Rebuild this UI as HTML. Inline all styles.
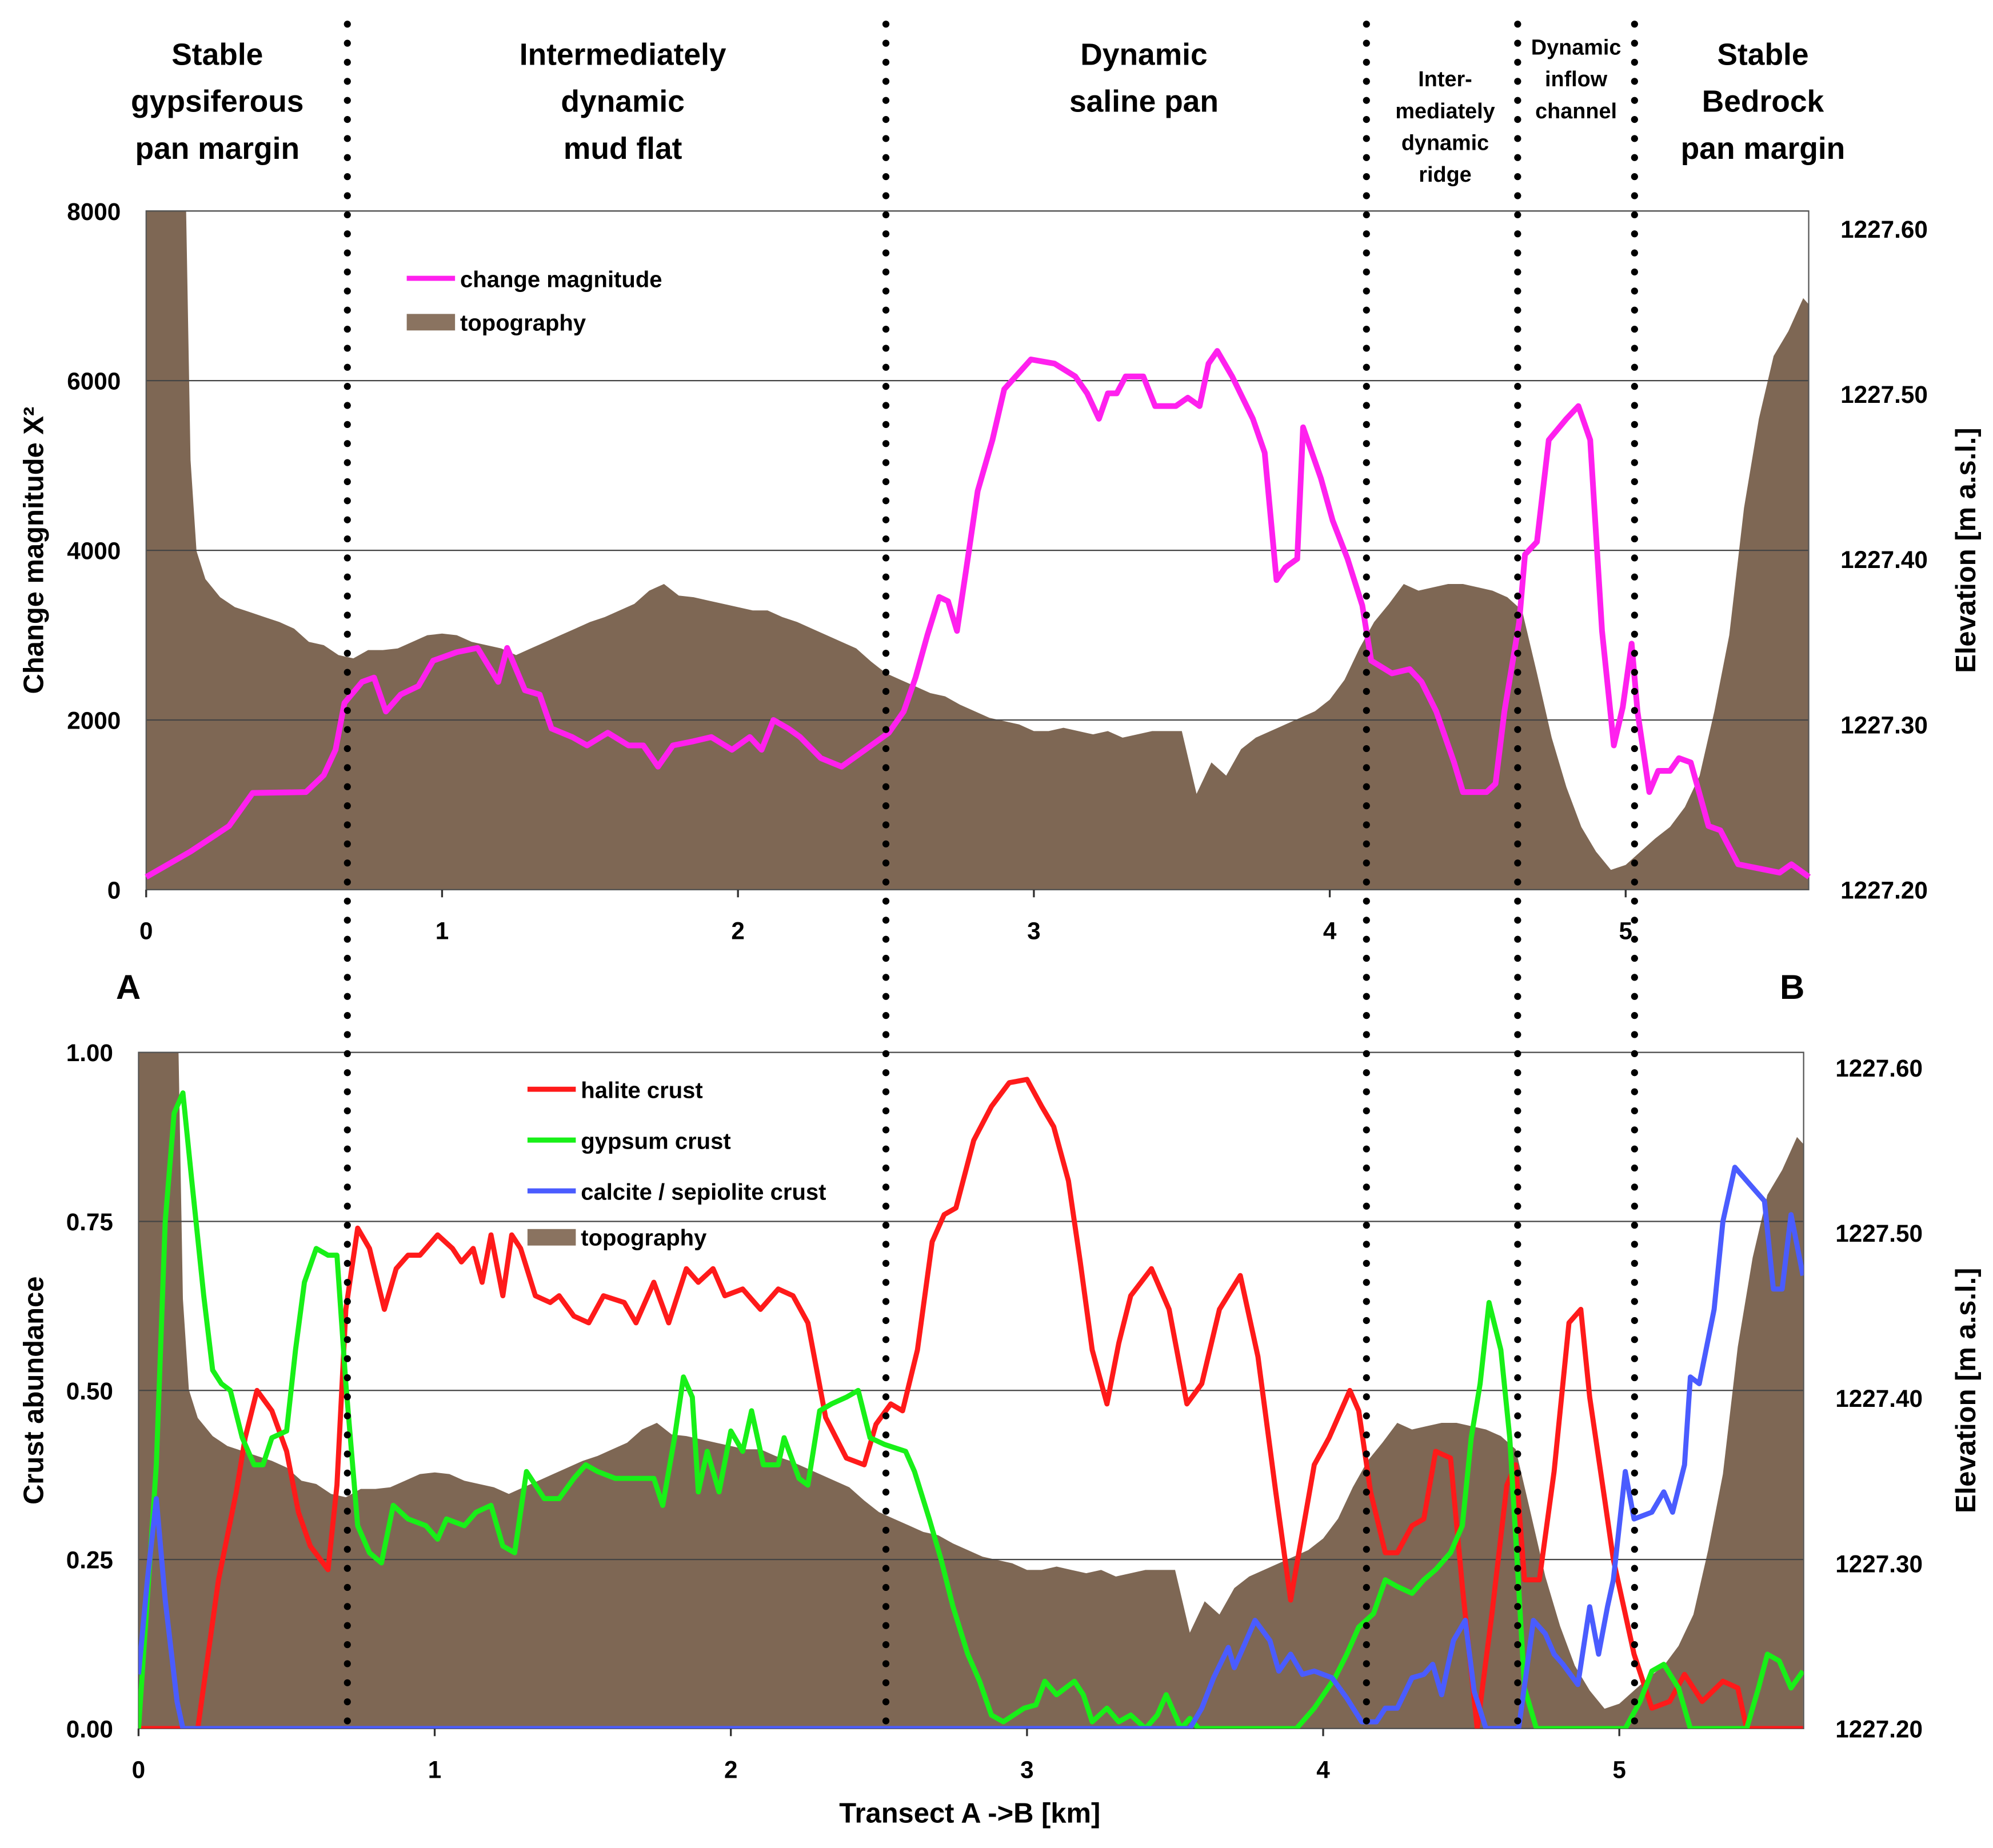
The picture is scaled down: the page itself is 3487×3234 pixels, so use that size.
<!DOCTYPE html>
<html><head><meta charset="utf-8"><style>
html,body{margin:0;padding:0;background:#fff}
svg{display:block}
text{font-family:"Liberation Sans Narrow","Liberation Sans",sans-serif;font-weight:bold;fill:#000}
</style></head><body>
<svg id="chart" xmlns="http://www.w3.org/2000/svg" width="3487" height="3234" viewBox="0 0 1568 1454" preserveAspectRatio="none">
<defs>
<clipPath id="clipTop"><rect x="115" y="166" width="1308" height="534"/></clipPath>
<clipPath id="clipBot"><rect x="109" y="828" width="1310" height="532"/></clipPath>
</defs>
<g id="headings" text-anchor="middle">
<text font-size="24" x="171"><tspan x="171" y="51">Stable</tspan><tspan x="171" y="88">gypsiferous</tspan><tspan x="171" y="125">pan margin</tspan></text>
<text font-size="24" x="490"><tspan x="490" y="51">Intermediately</tspan><tspan x="490" y="88">dynamic</tspan><tspan x="490" y="125">mud flat</tspan></text>
<text font-size="24" x="900"><tspan x="900" y="51">Dynamic</tspan><tspan x="900" y="88">saline pan</tspan></text>
<text font-size="17" x="1137"><tspan x="1137" y="68">Inter-</tspan><tspan x="1137" y="93">mediately</tspan><tspan x="1137" y="118">dynamic</tspan><tspan x="1137" y="143">ridge</tspan></text>
<text font-size="17" x="1240"><tspan x="1240" y="43">Dynamic</tspan><tspan x="1240" y="68">inflow</tspan><tspan x="1240" y="93">channel</tspan></text>
<text font-size="24" x="1387"><tspan x="1387" y="51">Stable</tspan><tspan x="1387" y="88">Bedrock</tspan><tspan x="1387" y="125">pan margin</tspan></text>
</g>
<g id="top"></g>
<g id="bot"></g>
<g id="divs"></g>
<text x="101" y="786" font-size="27" text-anchor="middle">A</text>
<text x="1410" y="786" font-size="27" text-anchor="middle">B</text>
<text x="763" y="1434" font-size="22" text-anchor="middle">Transect  A -&gt;B [km]</text>
<text font-size="22" text-anchor="middle" transform="translate(34,433) rotate(-90)">Change magnitude  X²</text>
<text font-size="22" text-anchor="middle" transform="translate(1554,433) rotate(-90)">Elevation [m a.s.l.]</text>
<text font-size="22" text-anchor="middle" transform="translate(34,1094) rotate(-90)">Crust abundance</text>
<text font-size="22" text-anchor="middle" transform="translate(1554,1094) rotate(-90)">Elevation [m a.s.l.]</text>
</svg>
<script>
const NS="http://www.w3.org/2000/svg";
const topoKm=[0,0.05,0.1,0.13,0.15,0.17,0.2,0.25,0.3,0.35,0.4,0.45,0.5,0.55,0.6,0.65,0.7,0.75,0.8,0.85,0.9,0.95,1,1.05,1.1,1.15,1.2,1.25,1.3,1.35,1.4,1.45,1.5,1.55,1.6,1.65,1.7,1.75,1.8,1.85,1.9,1.95,2,2.05,2.1,2.15,2.2,2.25,2.3,2.35,2.4,2.45,2.5,2.55,2.6,2.65,2.7,2.75,2.8,2.85,2.9,2.95,3,3.05,3.1,3.15,3.2,3.25,3.3,3.4,3.5,3.55,3.6,3.65,3.7,3.75,3.8,3.85,3.9,3.95,4,4.05,4.1,4.15,4.2,4.25,4.3,4.35,4.4,4.45,4.5,4.55,4.6,4.65,4.7,4.75,4.8,4.85,4.9,4.95,5,5.05,5.1,5.15,5.2,5.25,5.3,5.35,5.4,5.45,5.5,5.55,5.6,5.62];
const topoElev=[1227.66,1227.66,1227.66,1227.66,1227.46,1227.405,1227.388,1227.377,1227.371,1227.368,1227.365,1227.362,1227.358,1227.35,1227.348,1227.342,1227.34,1227.345,1227.345,1227.346,1227.35,1227.354,1227.355,1227.354,1227.35,1227.348,1227.346,1227.342,1227.346,1227.35,1227.354,1227.358,1227.362,1227.365,1227.369,1227.373,1227.381,1227.385,1227.378,1227.377,1227.375,1227.373,1227.371,1227.369,1227.369,1227.365,1227.362,1227.358,1227.354,1227.35,1227.346,1227.338,1227.331,1227.327,1227.323,1227.319,1227.317,1227.312,1227.308,1227.304,1227.302,1227.3,1227.296,1227.296,1227.298,1227.296,1227.294,1227.296,1227.292,1227.296,1227.296,1227.258,1227.277,1227.269,1227.285,1227.292,1227.296,1227.3,1227.304,1227.308,1227.315,1227.327,1227.346,1227.362,1227.373,1227.385,1227.381,1227.383,1227.385,1227.385,1227.383,1227.381,1227.377,1227.369,1227.331,1227.292,1227.262,1227.238,1227.223,1227.212,1227.215,1227.223,1227.231,1227.238,1227.25,1227.269,1227.308,1227.354,1227.431,1227.485,1227.523,1227.538,1227.558,1227.554];
const cmKm=[0,0.15,0.28,0.36,0.54,0.6,0.64,0.67,0.73,0.77,0.81,0.86,0.92,0.97,1.05,1.12,1.19,1.22,1.28,1.33,1.37,1.44,1.49,1.56,1.63,1.68,1.73,1.78,1.85,1.91,1.98,2.04,2.08,2.12,2.17,2.21,2.28,2.35,2.43,2.51,2.56,2.6,2.64,2.68,2.71,2.74,2.77,2.81,2.86,2.9,2.99,3.07,3.14,3.18,3.22,3.25,3.28,3.31,3.37,3.41,3.48,3.52,3.56,3.59,3.62,3.67,3.74,3.78,3.82,3.85,3.89,3.91,3.97,4.01,4.06,4.11,4.14,4.21,4.27,4.31,4.36,4.42,4.45,4.53,4.56,4.59,4.64,4.66,4.7,4.74,4.8,4.84,4.88,4.92,4.96,4.99,5.02,5.04,5.08,5.11,5.15,5.18,5.22,5.28,5.32,5.38,5.45,5.52,5.56,5.62];
const cmVal=[150,450,750,1140,1150,1350,1650,2200,2450,2500,2100,2300,2400,2700,2800,2850,2450,2850,2350,2300,1900,1800,1700,1850,1700,1700,1450,1700,1750,1800,1650,1800,1650,2000,1900,1800,1550,1450,1650,1850,2100,2500,3000,3450,3400,3050,3750,4700,5300,5900,6250,6200,6050,5850,5550,5850,5850,6050,6050,5700,5700,5800,5700,6200,6350,6050,5550,5150,3650,3800,3900,5450,4850,4350,3900,3350,2700,2550,2600,2450,2100,1500,1150,1150,1250,2100,3150,3950,4100,5300,5550,5700,5300,3050,1700,2150,2900,2100,1150,1400,1400,1550,1500,750,700,300,250,200,300,150];
const haliteKm=[0,0.2,0.27,0.33,0.36,0.4,0.45,0.5,0.54,0.58,0.64,0.67,0.7,0.74,0.78,0.83,0.87,0.91,0.95,1.01,1.06,1.09,1.13,1.16,1.19,1.23,1.26,1.29,1.34,1.39,1.42,1.47,1.52,1.57,1.64,1.68,1.74,1.79,1.85,1.89,1.94,1.98,2.04,2.1,2.16,2.21,2.26,2.32,2.39,2.45,2.49,2.54,2.58,2.63,2.68,2.72,2.76,2.82,2.88,2.94,3,3.05,3.09,3.14,3.18,3.22,3.27,3.31,3.35,3.42,3.48,3.54,3.59,3.65,3.72,3.78,3.84,3.89,3.93,3.97,4.02,4.09,4.12,4.16,4.21,4.25,4.3,4.34,4.38,4.43,4.47,4.52,4.57,4.62,4.65,4.68,4.73,4.78,4.83,4.87,4.9,4.95,4.98,5.05,5.11,5.17,5.22,5.28,5.35,5.4,5.43,5.62];
const haliteVal=[0,0,0.22,0.35,0.43,0.5,0.47,0.41,0.32,0.27,0.235,0.36,0.62,0.74,0.71,0.62,0.68,0.7,0.7,0.73,0.71,0.69,0.71,0.66,0.73,0.64,0.73,0.71,0.64,0.63,0.64,0.61,0.6,0.64,0.63,0.6,0.66,0.6,0.68,0.66,0.68,0.64,0.65,0.62,0.65,0.64,0.6,0.46,0.4,0.39,0.45,0.48,0.47,0.56,0.72,0.76,0.77,0.87,0.92,0.955,0.96,0.92,0.89,0.81,0.69,0.56,0.48,0.57,0.64,0.68,0.62,0.48,0.51,0.62,0.67,0.55,0.35,0.19,0.29,0.39,0.43,0.5,0.47,0.35,0.26,0.26,0.3,0.31,0.41,0.4,0.21,0,0.17,0.36,0.39,0.22,0.22,0.38,0.6,0.62,0.49,0.34,0.25,0.11,0.03,0.04,0.08,0.04,0.07,0.06,0,0];
const gypsumKm=[0,0.06,0.09,0.12,0.15,0.18,0.22,0.25,0.28,0.31,0.35,0.39,0.42,0.45,0.5,0.53,0.56,0.6,0.64,0.67,0.7,0.74,0.78,0.82,0.86,0.91,0.97,1.01,1.04,1.1,1.14,1.19,1.23,1.27,1.31,1.37,1.42,1.47,1.51,1.55,1.61,1.68,1.74,1.77,1.81,1.84,1.87,1.89,1.92,1.96,2,2.04,2.07,2.11,2.16,2.18,2.23,2.26,2.3,2.34,2.39,2.43,2.47,2.52,2.59,2.62,2.67,2.71,2.75,2.8,2.84,2.88,2.92,2.99,3.03,3.06,3.1,3.16,3.19,3.22,3.27,3.31,3.35,3.4,3.44,3.47,3.52,3.55,3.58,3.91,3.97,4.04,4.08,4.12,4.17,4.21,4.25,4.3,4.34,4.38,4.43,4.47,4.5,4.53,4.56,4.6,4.63,4.66,4.68,4.72,5.02,5.07,5.11,5.15,5.2,5.24,5.43,5.47,5.5,5.54,5.58,5.62];
const gypsumVal=[0,0.39,0.75,0.91,0.94,0.81,0.64,0.53,0.51,0.5,0.43,0.39,0.39,0.43,0.44,0.56,0.66,0.71,0.7,0.7,0.51,0.3,0.26,0.245,0.33,0.31,0.3,0.28,0.31,0.3,0.32,0.33,0.27,0.26,0.38,0.34,0.34,0.37,0.39,0.38,0.37,0.37,0.37,0.33,0.43,0.52,0.49,0.35,0.41,0.35,0.44,0.41,0.47,0.39,0.39,0.43,0.37,0.36,0.47,0.48,0.49,0.5,0.43,0.42,0.41,0.38,0.31,0.25,0.18,0.11,0.07,0.02,0.01,0.03,0.035,0.07,0.05,0.07,0.05,0.01,0.03,0.01,0.02,0,0.02,0.05,0,0.015,0,0,0.03,0.075,0.11,0.15,0.17,0.22,0.21,0.2,0.22,0.235,0.26,0.3,0.43,0.51,0.63,0.56,0.43,0.21,0.06,0,0,0.04,0.085,0.095,0.06,0,0,0.06,0.11,0.1,0.06,0.085];
const calciteKm=[0,0.03,0.06,0.09,0.13,0.15,3.55,3.59,3.63,3.68,3.7,3.73,3.77,3.82,3.85,3.89,3.93,3.97,4.03,4.08,4.13,4.18,4.21,4.25,4.3,4.34,4.37,4.4,4.44,4.48,4.51,4.55,4.66,4.71,4.75,4.78,4.81,4.86,4.9,4.93,4.96,4.98,5.02,5.05,5.11,5.15,5.18,5.22,5.24,5.27,5.32,5.35,5.39,5.45,5.49,5.52,5.55,5.58,5.62];
const calciteVal=[0.08,0.22,0.34,0.19,0.04,0,0,0.03,0.075,0.12,0.09,0.12,0.16,0.13,0.085,0.11,0.08,0.085,0.075,0.045,0.01,0.01,0.03,0.03,0.075,0.08,0.095,0.05,0.13,0.16,0.055,0,0,0.16,0.14,0.11,0.095,0.065,0.18,0.11,0.18,0.22,0.38,0.31,0.32,0.35,0.32,0.39,0.52,0.51,0.62,0.75,0.83,0.8,0.78,0.65,0.65,0.76,0.67];
const cmTicks=[0,2000,4000,6000,8000];
const abTicks=["0.00","0.25","0.50","0.75","1.00"];
const elevTicks=["1227.20","1227.30","1227.40","1227.50","1227.60"];
const kmTicks=[0,1,2,3,4,5];
const dividerKm=[0.68,2.5,4.124,4.635,5.03];

function el(tag,attrs,parent){const e=document.createElementNS(NS,tag);for(const k in attrs)e.setAttribute(k,attrs[k]);parent.appendChild(e);return e;}
const P={top:{x0:115,x1:1423,y0:166,y1:700,kmPx:232.8,ymax:8000,e0:700,ePx:1300},
         bot:{x0:109,x1:1419,y0:828,y1:1360,kmPx:233,ymax:1,e0:1360,ePx:1300}};
function xs(p,km){return p.x0+km*p.kmPx;}
function ys(p,v){return p.y1-(v/p.ymax)*(p.y1-p.y0);}
function ye(p,e){return p.e0-(e-1227.2)*p.ePx;}
function line(p,kms,vals){return kms.map((k,i)=>xs(p,k).toFixed(1)+","+ys(p,vals[i]).toFixed(1)).join(" ");}

function panel(p,g,clip,isTop){
  let pts=xs(p,topoKm[0])+","+p.y1+" "+topoKm.map((k,i)=>xs(p,k).toFixed(1)+","+ye(p,topoElev[i]).toFixed(1)).join(" ")+" "+xs(p,topoKm[topoKm.length-1])+","+p.y1;
  const t=el("polygon",{points:pts,fill:"#7e6754","clip-path":"url(#"+clip+")"},g);
  
  
  const ticks=isTop?cmTicks:[0,0.25,0.5,0.75,1];
  ticks.forEach((v,i)=>{
    const y=ys(p,v);
    const gl=el("line",{x1:p.x0,x2:p.x1,y1:y,y2:y,stroke:"#444","stroke-width":1},g);
    
    
    const tl=el("text",{x:p.x0-20,y:y+7,"font-size":19,"text-anchor":"end","font-family":"Liberation Sans, sans-serif"},g);
    tl.textContent=isTop?String(v):abTicks[i];
    
    
  });
  elevTicks.forEach(s=>{
    const y=ye(p,parseFloat(s));
    const tl=el("text",{x:p.x1+25,y:y+7,"font-size":19,"font-family":"Liberation Sans, sans-serif"},g);
    tl.textContent=s;
    
    
  });
  const fr=el("rect",{x:p.x0,y:p.y0,width:p.x1-p.x0,height:p.y1-p.y0,fill:"none",stroke:"#555","stroke-width":1},g);
  
  
  kmTicks.forEach(k=>{
    const x=xs(p,k);
    const tk=el("line",{x1:x,x2:x,y1:p.y1,y2:p.y1+6,stroke:"#333","stroke-width":1.5},g);
    
    
    const tl=el("text",{x:x,y:p.y1+39,"font-size":19,"text-anchor":"middle","font-family":"Liberation Sans, sans-serif"},g);
    tl.textContent=String(k);
    
    
  });
}
const gt=document.getElementById("top"), gb=document.getElementById("bot");
panel(P.top,gt,"clipTop",true);
panel(P.bot,gb,"clipBot",false);

const cm=el("polyline",{points:line(P.top,cmKm,cmVal),fill:"none",stroke:"#ff20ee","stroke-width":4.5,"stroke-linejoin":"round"},gt);


const series=[[haliteKm,haliteVal,"#ff1a1a","halite-line"],[gypsumKm,gypsumVal,"#18f018","gypsum-line"],[calciteKm,calciteVal,"#4a5cff","calcite-line"]];
series.forEach(s=>{
  const l=el("polyline",{points:line(P.bot,s[0],s[1]),fill:"none",stroke:s[2],"stroke-width":4,"stroke-linejoin":"round","clip-path":"url(#clipBot)"},gb);
  
  
});

function legLine(g,x,y,color,label,name){
  const lg=el("g",{},g);
  
  
  el("line",{x1:x,x2:x+38,y1:y,y2:y,stroke:color,"stroke-width":4},lg);
  const t=el("text",{x:x+42,y:y+7,"font-size":18},lg);t.textContent=label;
}
function legRect(g,x,y,label,name){
  const lg=el("g",{},g);
  
  
  el("rect",{x:x,y:y-6,width:38,height:13,fill:"#8a7360"},lg);
  const t=el("text",{x:x+42,y:y+7,"font-size":18},lg);t.textContent=label;
}
legLine(gt,320,219,"#ff20ee","change magnitude","legend-change-magnitude");
legRect(gt,320,253,"topography","legend-topography-top");
legLine(gb,415,857,"#ff1a1a","halite crust","legend-halite");
legLine(gb,415,897,"#18f018","gypsum crust","legend-gypsum");
legLine(gb,415,937,"#4a5cff","calcite / sepiolite crust","legend-calcite");
legRect(gb,415,973,"topography","legend-topography-bottom");

const gd=document.getElementById("divs");
dividerKm.forEach(k=>{
  const x=xs(P.top,k);
  const d=el("line",{x1:x,x2:x,y1:19,y2:1366,stroke:"#000","stroke-width":5.5,"stroke-dasharray":"0 15","stroke-linecap":"round"},gd);
  
  
});
</script>
</body></html>
